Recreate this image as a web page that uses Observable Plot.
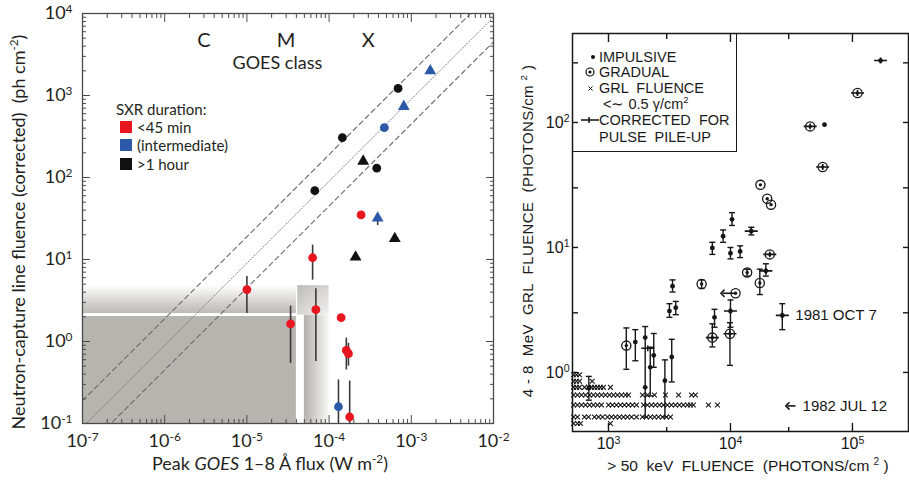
<!DOCTYPE html>
<html>
<head>
<meta charset="utf-8">
<script src="https://cdn.jsdelivr.net/npm/d3@7"></script>
<script src="https://cdn.jsdelivr.net/npm/@observablehq/plot@0.6"></script>
<style>
  html,body{margin:0;padding:0;background:#fff;}
  #wrap{position:relative;width:909px;height:480px;overflow:hidden;background:#fff;}
  #left,#right{position:absolute;top:0;}
  #left{left:0;} #right{left:520px;}
  .lft{font-family:Lato,"Open Sans",sans-serif;color:#231f20;position:absolute;white-space:pre;line-height:22px;}
  .rgt{font-family:"Liberation Sans",Arial,sans-serif;color:#1a1a1a;position:absolute;white-space:pre;line-height:15px;}
  sup{font-size:0.65em;vertical-align:0.6em;line-height:0;}
  .sq{position:absolute;width:12px;height:12px;}
</style>
</head>
<body>
<div id="wrap">
  <div id="left"></div>
  <div id="right"></div>

  <!-- left panel titles and legend -->
  <div class="lft" style="left:0px;width:540px;top:452px;text-align:center;font-size:18px;">Peak <i>GOES</i> 1–8 Å flux (W m<sup>-2</sup>)</div>
  <div class="lft" style="left:-212px;width:460px;top:221px;text-align:center;font-size:18px;transform:rotate(-90deg);">Neutron-capture line fluence (corrected)  (ph cm<sup>-2</sup>)</div>
  <div class="lft" style="left:116px;top:98px;font-size:15px;">SXR duration:</div>
  <div class="sq" style="left:120px;top:121px;background:#e8161f;"></div>
  <div class="lft" style="left:137px;top:116px;font-size:15px;">&lt;45 min</div>
  <div class="sq" style="left:120px;top:139px;background:#2c5aa8;"></div>
  <div class="lft" style="left:137px;top:134px;font-size:15px;">(intermediate)</div>
  <div class="sq" style="left:120px;top:158px;background:#111;"></div>
  <div class="lft" style="left:137px;top:153px;font-size:15px;">&gt;1 hour</div>

  <!-- right panel titles and legend -->
  <div class="rgt" style="left:548px;width:400px;top:457px;text-align:center;font-size:15.5px;line-height:18px;">&gt; 50  keV  FLUENCE  (PHOTONS/cm <sup>2</sup> )</div>
  <div class="rgt" style="left:338px;width:380px;top:222px;text-align:center;font-size:15px;line-height:18px;letter-spacing:0.4px;transform:rotate(-90deg);">4 - 8  MeV  GRL  FLUENCE  (PHOTONS/cm <sup>2</sup> )</div>
  <div style="position:absolute;left:572px;top:33px;width:163px;height:118px;border:1.6px solid #1a1a1a;border-top:none;"></div>
  <svg style="position:absolute;left:572px;top:33px;" width="30" height="120">
    <circle cx="21" cy="24" r="2" fill="#111"/>
    <circle cx="18" cy="39" r="4" fill="none" stroke="#111" stroke-width="1.2"/>
    <circle cx="18" cy="39" r="1.6" fill="#111"/>
    <path d="M16.5,53.5L20.5,57.5M20.5,53.5L16.5,57.5" stroke="#111" stroke-width="1"/>
    <path d="M9,87L27,87M17,84L17,90" stroke="#111" stroke-width="1.5"/>
  </svg>
  <div class="rgt" style="left:599px;top:50px;font-size:14.5px;">IMPULSIVE</div>
  <div class="rgt" style="left:599px;top:65px;font-size:14.5px;">GRADUAL</div>
  <div class="rgt" style="left:599px;top:81px;font-size:14.5px;">GRL  FLUENCE</div>
  <div class="rgt" style="left:599px;top:97px;font-size:14.5px;"> &lt;∼ 0.5 γ/cm<sup>2</sup></div>
  <div class="rgt" style="left:599px;top:113px;font-size:14.5px;">CORRECTED  FOR</div>
  <div class="rgt" style="left:599px;top:130px;font-size:14.5px;">PULSE  PILE-UP</div>
</div>

<script>
// ================= LEFT PANEL DATA =================
const xTickValuesL = [1e-7, 1e-6, 1e-5, 1e-4, 1e-3, 1e-2];
const xTickLabelsL = ["10^-7", "10^-6", "10^-5", "10^-4", "10^-3", "10^-2"];
const yTickValuesL = [1e-1, 1e0, 1e1, 1e2, 1e3, 1e4];
const yTickLabelsL = ["10^-1", "10^0", "10^1", "10^2", "10^3", "10^4"];

const goesClassNames = ["C", "M", "X"];
const goesClassFlux = [3e-6, 3e-5, 3e-4];
const goesClassFluence = 4700;
const goesTitle = "GOES class";
const goesTitleFlux = 2.35e-5;
const goesTitleFluence = 2500;

const durationNames = ["<45 min", "(intermediate)", ">1 hour"];

const flareFlux     = [1.0e-5, 6.3e-5, 3.4e-5, 6.9e-5, 1.4e-4, 1.62e-4, 1.72e-4, 1.78e-4, 2.45e-4,
                       1.3e-4, 4.7e-4, 3.9e-4, 8.1e-4, 1.7e-3,
                       6.7e-5, 1.45e-4, 6.9e-4, 3.8e-4, 2.6e-4, 6.3e-4, 2.1e-4];
const flareFluence  = [4.3, 10.5, 1.64, 2.44, 1.95, 0.78, 0.71, 0.12, 35,
                       0.16, 405, 32, 735, 2000,
                       69, 306, 1220, 130, 158, 18, 10.7];
const flareErrLo    = [2.2, 5.6, 0.54, 0.57, null, 0.45, 0.5, 0.1, null,
                       0.1, null, 26, null, null,
                       null, null, null, null, null, null, null];
const flareErrHi    = [6.2, 15, 2.7, 4.4, null, 1.1, 0.95, 0.33, null,
                       0.34, null, 32, null, null,
                       null, null, null, null, null, null, null];
const flareDuration = ["<45 min","<45 min","<45 min","<45 min","<45 min","<45 min","<45 min","<45 min","<45 min",
                       "(intermediate)","(intermediate)","(intermediate)","(intermediate)","(intermediate)",
                       ">1 hour",">1 hour",">1 hour",">1 hour",">1 hour",">1 hour",">1 hour"];
const flareShape    = ["circle","circle","circle","circle","circle","circle","circle","circle","circle",
                       "circle","circle","triangle","triangle","triangle",
                       "circle","circle","circle","circle","triangle","triangle","triangle"];

const guideRatios = [1.9e6, 9e5, 4.5e5];     // fluence / flux of the three guide lines
const guideFluxRange = [1e-7, 1e-2];

const thresholdX1 = [1e-7, 1e-7, 5.0e-5, 4.15e-5];
const thresholdX2 = [4.0e-5, 4.0e-5, 1.0e-4, 1.0e-4];
const thresholdY1 = [0.1, 2.19, 0.1, 2.1];
const thresholdY2 = [2.02, 4.8, 2.1, 4.8];

// ================= RIGHT PANEL DATA =================
const xTickValuesR = [1e3, 1e4, 1e5];
const xTickLabelsR = ["10^3", "10^4", "10^5"];
const xMinorR = [3e3, 3e4];
const yTickValuesR = [1, 10, 100];
const yTickLabelsR = ["10^0", "10^1", "10^2"];
const yMinorR = [3, 30, 300];

const impX  = [5.9e4, 1.03e4, 8.7e3, 1.48e4, 7.1e3, 1.0e4, 1.2e4, 1.95e4, 3.35e3, 3.16e3, 3.56e3,
               1.0e4, 7.4e3, 2.66e4, 1.66e3, 2.0e3, 2.35e3, 2.2e3, 2.9e3, 3.3e3, 6.9e2, 1.7e5, 2.0e3];
const impY  = [96, 16.8, 12.3, 13.5, 9.9, 9.0, 9.3, 6.5, 4.9, 3.1, 3.3,
               3.1, 2.76, 2.86, 1.75, 1.9, 1.37, 1.1, 0.86, 1.33, 0.75, 313, 0.76];
const impLo = [null, 15, 11, 12.6, 8.8, 8.1, 8.3, 5.9, 4.4, 2.76, 2.9,
               2.3, 2.3, 2.2, 1.24, 0.44, 1.1, 0.65, 0.44, 0.84, 0.6, null, null];
const impHi = [null, 19, 13.8, 14.5, 11, 10, 10.3, 7.4, 5.5, 3.55, 3.7,
               3.8, 3.2, 3.55, 2.2, 2.33, 2.05, 1.59, 1.26, 1.84, 0.93, null, null];

const gradX  = [1.1e5, 4.5e4, 5.7e4, 1.76e4, 2.0e4, 2.15e4, 2.1e4, 1.37e4, 1.74e4, 5.8e3, 1.1e4, 9.9e3, 7.1e3, 1.4e3];
const gradY  = [172, 93, 44, 31.7, 24.5, 22, 8.8, 6.3, 5.2, 5.1, 4.3, 2.04, 1.9, 1.64];
const gradLo = [null, null, null, null, null, null, null, 5.9, 4.2, 4.7, null, 1.14, 1.6, 1.06];
const gradHi = [null, null, null, null, null, null, null, 6.7, 6.7, 5.5, null, 2.5, 2.45, 2.27];

const corrX = [1.7e5, 1.1e5, 4.5e4, 5.7e4, 1.48e4, 2.1e4, 1.0e4, 9.9e3, 7.1e3, 2.66e4, 2.1e3, 1.95e4];
const corrY = [313, 172, 93, 44, 13.5, 8.8, 3.1, 2.04, 1.9, 2.86, 1.56, 6.5];

const shiftFrom = [1.1e4, 3.41e4];
const shiftTo   = [8.6e3, 2.93e4];
const shiftY    = [4.3, 0.54];

const eventNames = ["1981 OCT 7", "1982 JUL 12"];
const eventX = [3.4e4, 3.9e4];
const eventY = [2.86, 0.54];

const grlRowFluence = [0.96, 0.85, 0.76, 0.66, 0.55, 0.44, 0.39];
const grlRowX = [
  [517, 547, 579],
  [517, 547, 579, 735],
  [517, 547, 579, 636, 686, 726, 768, 813, 860, 910, 1038],
  [517, 557, 601, 648, 699, 753, 813, 876, 945, 1019, 1099, 1185, 1278, 1378, 1459, 1899, 2087, 2382, 2931, 3752, 4797, 5161],
  [517, 557, 601, 648, 699, 753, 813, 876, 1000, 1078, 1163, 1254, 1352, 1459, 1573, 1697, 1936, 2087, 2251, 2428, 2617, 2822, 3043, 3282, 3539, 3816, 4116, 4438, 4696, 4965, 6600, 7820],
  [517, 557, 636, 686, 768, 828, 893, 982, 1058, 1141, 1231, 1327, 1431, 1544, 1697, 1899, 2048, 2208, 2382, 2569, 2770, 2988, 3223],
  [517, 557, 590, 1038]
];

// ================= HELPERS =================
const decadeMinors = (e0, e1) => d3.range(e0, e1).flatMap(e => [2,3,4,5,6,7,8,9].map(m => m * Math.pow(10, e)));
const labeler = (vals, labels) => v => {
  const i = vals.findIndex(t => Math.abs(Math.log10(t) - Math.log10(v)) < 1e-6);
  return i < 0 ? "" : labels[i];
};
function supify(svg) {
  d3.select(svg).selectAll("text").each(function () {
    const t = this.textContent;
    if (!t.includes("^")) return;
    const [b, e] = t.split("^");
    const s = d3.select(this);
    s.text(null);
    s.append("tspan").text(b);
    s.append("tspan").attr("dy", "-0.5em").attr("font-size", "0.66em").text(e);
  });
}

// ================= LEFT PLOT =================
const flares = flareFlux.map((x, i) => ({
  flux: x, fluence: flareFluence[i], lo: flareErrLo[i], hi: flareErrHi[i],
  dur: flareDuration[i], shape: flareShape[i]
}));
const guides = guideRatios.map((k, j) => guideFluxRange.map(x => ({line: j, flux: x, fluence: k * x})));
const shades = thresholdX1.map((x1, i) => ({x1, x2: thresholdX2[i], y1: thresholdY1[i], y2: thresholdY2[i]}));
const goesLabels = goesClassNames.map((t, i) => ({t, flux: goesClassFlux[i], fluence: goesClassFluence}));

const xMinorL = decadeMinors(-7, -2);
const yMinorL = decadeMinors(-1, 4);
const axisStroke = "#4a4a4a";

const leftPlot = Plot.plot({
  width: 510, height: 480,
  marginLeft: 82, marginRight: 17, marginTop: 13, marginBottom: 57,
  style: {fontFamily: "Lato, 'Open Sans', sans-serif", color: "#231f20", background: "transparent"},
  x: {type: "log", domain: [1e-7, 1e-2]},
  y: {type: "log", domain: [0.1, 1e4]},
  color: {domain: durationNames, range: ["#e8161f", "#2c5aa8", "#111111"]},
  symbol: {domain: ["circle", "triangle"], range: ["circle", "triangle"]},
  marks: [
    Plot.rect([shades[0]], {x1: "x1", x2: "x2", y1: "y1", y2: "y2", fill: "#b6b4af"}),
    Plot.rect([shades[1]], {x1: "x1", x2: "x2", y1: "y1", y2: "y2", fill: "url(#gBand)"}),
    Plot.rect([shades[2]], {x1: "x1", x2: "x2", y1: "y1", y2: "y2", fill: "url(#gSide)"}),
    Plot.rect([shades[3]], {x1: "x1", x2: "x2", y1: "y1", y2: "y2", fill: "url(#gBlock)"}),
    Plot.line(guides[0], {x: "flux", y: "fluence", stroke: "#6b6b6b", strokeWidth: 1.1, strokeDasharray: "5,3.5", clip: true}),
    Plot.line(guides[1], {x: "flux", y: "fluence", stroke: "#7a7a7a", strokeWidth: 1, strokeDasharray: "1,2", clip: true}),
    Plot.line(guides[2], {x: "flux", y: "fluence", stroke: "#6b6b6b", strokeWidth: 1.1, strokeDasharray: "5,3.5", clip: true}),
    Plot.ruleX(flares.filter(d => d.lo != null), {x: "flux", y1: "lo", y2: "hi", stroke: "#3a3a3a", strokeWidth: 1.6, clip: true}),
    Plot.dot(flares, {x: "flux", y: "fluence", fill: "dur", symbol: "shape", r: 4.4}),
    Plot.text(goesLabels, {x: "flux", y: "fluence", text: "t", fontSize: 20, fill: "#231f20"}),
    Plot.text([{t: goesTitle, flux: goesTitleFlux, fluence: goesTitleFluence}], {x: "flux", y: "fluence", text: "t", fontSize: 18, fill: "#231f20"}),
    Plot.frame({stroke: axisStroke, strokeWidth: 1.3}),
    // inward ticks on all four sides
    Plot.axisX({anchor: "bottom", ticks: xTickValuesL, tickSize: -8, fill: "none", stroke: axisStroke, label: null}),
    Plot.axisX({anchor: "bottom", ticks: xMinorL, tickSize: -4, fill: "none", stroke: axisStroke, label: null}),
    Plot.axisX({anchor: "top", ticks: xTickValuesL, tickSize: -8, fill: "none", stroke: axisStroke, label: null}),
    Plot.axisX({anchor: "top", ticks: xMinorL, tickSize: -4, fill: "none", stroke: axisStroke, label: null}),
    Plot.axisY({anchor: "left", ticks: yTickValuesL, tickSize: -8, fill: "none", stroke: axisStroke, label: null}),
    Plot.axisY({anchor: "left", ticks: yMinorL, tickSize: -4, fill: "none", stroke: axisStroke, label: null}),
    Plot.axisY({anchor: "right", ticks: yTickValuesL, tickSize: -8, fill: "none", stroke: axisStroke, label: null}),
    Plot.axisY({anchor: "right", ticks: yMinorL, tickSize: -4, fill: "none", stroke: axisStroke, label: null}),
    // tick labels
    Plot.axisX({anchor: "bottom", ticks: xTickValuesL, tickSize: 0, tickPadding: 11, fontSize: 18,
                tickFormat: labeler(xTickValuesL, xTickLabelsL), label: null}),
    Plot.axisY({anchor: "left", ticks: yTickValuesL, tickSize: 0, tickPadding: 10, fontSize: 18,
                tickFormat: labeler(yTickValuesL, yTickLabelsL), label: null})
  ]
});
d3.select(leftPlot).insert("defs", ":first-child").html(
  '<linearGradient id="gBand" x1="0" y1="1" x2="0" y2="0">' +
    '<stop offset="0" stop-color="#bcbab6"/><stop offset="0.35" stop-color="#d2d0cd"/><stop offset="1" stop-color="#ffffff"/></linearGradient>' +
  '<linearGradient id="gSide" x1="0" y1="0" x2="1" y2="0">' +
    '<stop offset="0" stop-color="#b3b1ad"/><stop offset="1" stop-color="#f7f7f7"/></linearGradient>' +
  '<linearGradient id="gBlock" x1="0" y1="0" x2="1" y2="1">' +
    '<stop offset="0" stop-color="#bdbbb8"/><stop offset="1" stop-color="#f0f0f0"/></linearGradient>'
);
supify(leftPlot);
document.getElementById("left").appendChild(leftPlot);

// ================= RIGHT PLOT =================
const hbar = {draw(ctx, size) { const r = Math.sqrt(size / Math.PI); ctx.moveTo(-r, 0); ctx.lineTo(r, 0); }};
const corrGlyph = {draw(ctx, size) {
  const r = Math.sqrt(size / Math.PI);
  ctx.moveTo(-r, 0); ctx.lineTo(r, 0); ctx.moveTo(0, -r * 0.45); ctx.lineTo(0, r * 0.45);
}};

const imp = impX.map((x, i) => ({x, y: impY[i], lo: impLo[i], hi: impHi[i]}));
const grad = gradX.map((x, i) => ({x, y: gradY[i], lo: gradLo[i], hi: gradHi[i]}));
const corr = corrX.map((x, i) => ({x, y: corrY[i]}));
const errs = imp.concat(grad).filter(d => d.lo != null);
const caps = errs.flatMap(d => [{x: d.x, y: d.lo}, {x: d.x, y: d.hi}]);
const grl = grlRowX.flatMap((row, j) => row.map(x => ({x, y: grlRowFluence[j]})));
const shifts = shiftFrom.map((x1, i) => ({x1, x2: shiftTo[i], y: shiftY[i]}));
const events = eventNames.map((t, i) => ({t, x: eventX[i], y: eventY[i]}));

const ink = "#161616";
const rightPlot = Plot.plot({
  width: 389, height: 480,
  marginLeft: 52, marginRight: 1, marginTop: 33, marginBottom: 49,
  style: {fontFamily: "'Liberation Sans', Arial, sans-serif", color: ink, background: "transparent"},
  x: {type: "log", domain: [507, 2.88e5]},
  y: {type: "log", domain: [0.337, 515]},
  marks: [
    Plot.frame({stroke: ink, strokeWidth: 1.5}),
    Plot.axisX({anchor: "bottom", ticks: xTickValuesR, tickSize: -8, fill: "none", stroke: ink, strokeWidth: 1.4, label: null}),
    Plot.axisX({anchor: "bottom", ticks: xMinorR, tickSize: -4, fill: "none", stroke: ink, strokeWidth: 1.4, label: null}),
    Plot.axisX({anchor: "top", ticks: xTickValuesR, tickSize: -8, fill: "none", stroke: ink, strokeWidth: 1.4, label: null}),
    Plot.axisX({anchor: "top", ticks: xMinorR, tickSize: -5, fill: "none", stroke: ink, strokeWidth: 1.4, label: null}),
    Plot.axisY({anchor: "left", ticks: yTickValuesR.concat(yMinorR), tickSize: -6, fill: "none", stroke: ink, strokeWidth: 1.4, label: null}),
    Plot.axisY({anchor: "right", ticks: yTickValuesR.concat(yMinorR), tickSize: -6, fill: "none", stroke: ink, strokeWidth: 1.4, label: null}),
    Plot.axisX({anchor: "bottom", ticks: xTickValuesR, tickSize: 0, tickPadding: 6, fontSize: 16,
                tickFormat: labeler(xTickValuesR, xTickLabelsR), label: null}),
    Plot.axisY({anchor: "left", ticks: yTickValuesR, tickSize: 0, tickPadding: 3, fontSize: 16,
                tickFormat: labeler(yTickValuesR, yTickLabelsR), label: null}),
    Plot.dot(grl, {x: "x", y: "y", symbol: "times", r: 2.3, stroke: ink, strokeWidth: 1.1, fill: "none"}),
    Plot.ruleX(errs, {x: "x", y1: "lo", y2: "hi", stroke: ink, strokeWidth: 1.4}),
    Plot.dot(caps, {x: "x", y: "y", symbol: hbar, r: 3, stroke: ink, strokeWidth: 1.4, fill: "none"}),
    Plot.link(shifts, {x1: "x1", x2: "x2", y1: "y", y2: "y", stroke: ink, strokeWidth: 1.6, markerEnd: "arrow"}),
    Plot.dot(corr, {x: "x", y: "y", symbol: corrGlyph, r: 6.5, stroke: ink, strokeWidth: 1.6, fill: "none"}),
    Plot.dot(grad, {x: "x", y: "y", r: 4.6, stroke: ink, strokeWidth: 1.3, fill: "none"}),
    Plot.dot(grad, {x: "x", y: "y", r: 1.7, fill: ink}),
    Plot.dot(imp, {x: "x", y: "y", r: 2.4, fill: ink}),
    Plot.text(events, {x: "x", y: "y", text: "t", textAnchor: "start", fontSize: 15, fill: ink})
  ]
});
supify(rightPlot);
document.getElementById("right").appendChild(rightPlot);
</script>
</body>
</html>
